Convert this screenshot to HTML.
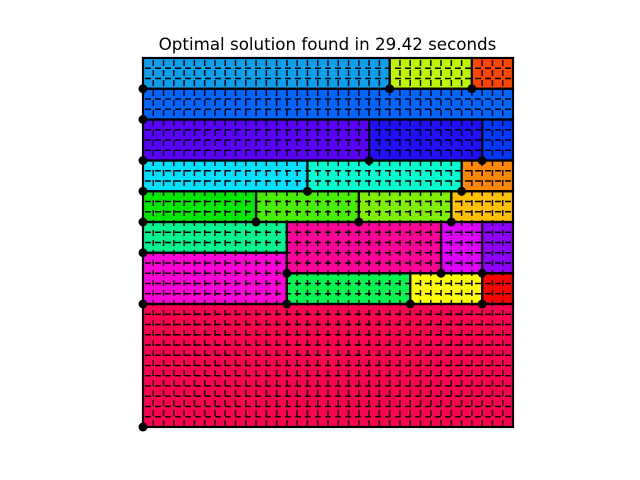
<!DOCTYPE html>
<html><head><meta charset="utf-8"><style>
html,body{margin:0;padding:0;background:#fff;}
svg{display:block;}
</style></head><body>
<svg id="chart" width="640" height="480" xmlns="http://www.w3.org/2000/svg">
<rect width="640" height="480" fill="#fff"/>
<text x="327.5" y="50" text-anchor="middle" font-family="DejaVu Sans, Liberation Sans, sans-serif" font-size="16.7" fill="#000">Optimal solution found in 29.42 seconds</text>
<g id="rects"></g>
<g id="grid"></g>
<g id="borders"></g>
<g id="dots"></g>
</svg>
<script>
// rectangles in grid units: x0, y0 (top row), x1, y1
const rectX0 = [0,24,32, 0, 0,22,33, 0,16,31, 0,11,21,30, 0,14,29,33, 0,14,26,33, 0];
const rectY0 = [0, 0, 0, 3, 6, 6, 6,10,10,10,13,13,13,13,16,16,16,16,19,21,21,21,24];
const rectX1 = [24,32,36,36,22,33,36,16,31,36,11,21,30,36,14,29,33,36,14,26,33,36,36];
const rectY1 = [3, 3, 3, 6,10,10,10,13,13,13,16,16,16,16,19,21,21,21,24,24,24,24,36];
const rectColors = ['#0aa0ee','#bff500','#ff4500','#0066ff','#5a00ff','#2010ff','#0038ff',
 '#00e0ff','#00ffd0','#ff8800','#00e800','#48ee00','#80ee00','#ffc000',
 '#00f590','#ff0099','#e000ff','#9000ff','#ff00d8','#00f550','#ffff00','#ff0000','#ff0050'];
const gridN = 36;
const X0 = 143, Y0 = 58, W = 370, H = 369;
const sx = v => X0 + v * W / gridN;
const sy = v => Y0 + v * H / gridN;
const NS = 'http://www.w3.org/2000/svg';
const gR = document.getElementById('rects'), gG = document.getElementById('grid'),
      gB = document.getElementById('borders'), gD = document.getElementById('dots');
for (let i = 0; i < rectX0.length; i++) {
  const r = document.createElementNS(NS, 'rect');
  r.setAttribute('x', sx(rectX0[i])); r.setAttribute('y', sy(rectY0[i]));
  r.setAttribute('width', sx(rectX1[i]) - sx(rectX0[i]));
  r.setAttribute('height', sy(rectY1[i]) - sy(rectY0[i]));
  r.setAttribute('fill', rectColors[i]);
  
  
  gR.appendChild(r);
}
for (let k = 1; k < gridN; k++) {
  const v = document.createElementNS(NS, 'line');
  v.setAttribute('x1', sx(k)); v.setAttribute('x2', sx(k));
  v.setAttribute('y1', Y0); v.setAttribute('y2', Y0 + H);
  v.setAttribute('stroke', '#000'); v.setAttribute('stroke-width', '1.5');
  v.setAttribute('stroke-dasharray', '6 4');
  v.setAttribute('stroke-dashoffset', '-2');
  
  
  gG.appendChild(v);
  const h = document.createElementNS(NS, 'line');
  h.setAttribute('y1', sy(k)); h.setAttribute('y2', sy(k));
  h.setAttribute('x1', X0); h.setAttribute('x2', X0 + W);
  h.setAttribute('stroke', '#000'); h.setAttribute('stroke-width', '1.5');
  h.setAttribute('stroke-dasharray', '6 4');
  h.setAttribute('stroke-dashoffset', '-2');
  
  
  gG.appendChild(h);
}
for (let i = 0; i < rectX0.length; i++) {
  const r = document.createElementNS(NS, 'rect');
  r.setAttribute('x', sx(rectX0[i])); r.setAttribute('y', sy(rectY0[i]));
  r.setAttribute('width', sx(rectX1[i]) - sx(rectX0[i]));
  r.setAttribute('height', sy(rectY1[i]) - sy(rectY0[i]));
  r.setAttribute('fill', 'none'); r.setAttribute('stroke', '#000'); r.setAttribute('stroke-width', '2.2');
  
  
  gB.appendChild(r);
  const c = document.createElementNS(NS, 'circle');
  c.setAttribute('cx', sx(rectX0[i])); c.setAttribute('cy', sy(rectY1[i]));
  c.setAttribute('r', 4.5); c.setAttribute('fill', '#000');
  
  
  gD.appendChild(c);
}
</script>
</body></html>
